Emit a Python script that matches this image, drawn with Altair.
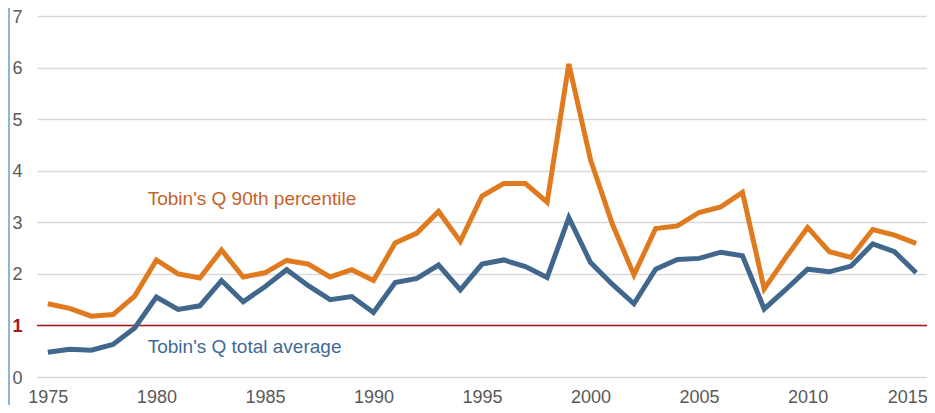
import altair as alt
import pandas as pd

years = list(range(1975, 2016))
q90 = [1.42, 1.33, 1.18, 1.21, 1.57, 2.27, 2.00, 1.92, 2.46, 1.94,
       2.02, 2.26, 2.19, 1.94, 2.08, 1.87, 2.60, 2.79, 3.21, 2.63,
       3.51, 3.75, 3.75, 3.39, 6.07, 4.21, 2.97, 1.98, 2.88, 2.93,
       3.19, 3.30, 3.58, 1.71, 2.32, 2.90, 2.43, 2.32, 2.86, 2.75, 2.59]
qavg = [0.48, 0.54, 0.52, 0.63, 0.95, 1.55, 1.31, 1.38, 1.87, 1.46,
        1.75, 2.08, 1.77, 1.50, 1.56, 1.25, 1.83, 1.91, 2.17, 1.69,
        2.19, 2.27, 2.14, 1.93, 3.09, 2.22, 1.80, 1.42, 2.09, 2.28,
        2.30, 2.42, 2.35, 1.32, 1.70, 2.09, 2.04, 2.15, 2.58, 2.43, 2.02]
series_names = ["Tobin's Q 90th percentile", "Tobin's Q total average"]
series_colors = ["#E07A1F", "#41678D"]
label_colors = ["#C4622A", "#3F6A96"]
label_pos_x = [1979.6, 1979.6]
label_pos_y = [3.33, 0.47]
x_ticks = [1975, 1980, 1985, 1990, 1995, 2000, 2005, 2010, 2015]

df = pd.DataFrame({
    "year": years * 2,
    "value": q90 + qavg,
    "series": [series_names[0]] * len(years) + [series_names[1]] * len(years),
})
labels = pd.DataFrame({"year": label_pos_x, "value": label_pos_y,
                       "text": series_names, "series": series_names})

FONT = "Liberation Sans"

xscale = alt.Scale(domain=[1974.5, 2015.5], nice=False, zero=False)
yscale = alt.Scale(domain=[0, 7], nice=False)

base_x = alt.X("year:Q", scale=xscale,
               axis=alt.Axis(values=x_ticks, format="d", grid=False, ticks=False,
                             domain=False, labelFontSize=18, labelColor="#595959",
                             labelFont=FONT, labelPadding=11, title=None,
                             labelFlush=False, labelOverlap=False,
                             labelOffset={"expr": "datum.value == 2015 ? -9 : 0"}))
base_y = alt.Y("value:Q", scale=yscale,
               axis=alt.Axis(values=list(range(0, 8)), format="d", grid=True, gridColor="#D9D9D9",
                             gridWidth=1.5, ticks=False, domain=False,
                             labelFontSize=18, labelFont=FONT, labelOffset=1,
                             labelColor={"expr": "datum.value == 1 ? '#A5171F' : '#595959'"},
                             labelFontWeight={"expr": "datum.value == 1 ? 'bold' : 'normal'"},
                             labelPadding=15, title=None))

lines = alt.Chart(df).mark_line(strokeWidth=5, strokeJoin="miter").encode(
    x=base_x, y=base_y,
    color=alt.Color("series:N", scale=alt.Scale(domain=series_names, range=series_colors),
                    legend=None),
)

ref = alt.Chart(pd.DataFrame({"v": [1]})).mark_rule(color="#A5171F", strokeWidth=1.5).encode(
    y=alt.Y("v:Q", scale=yscale)
)

text = alt.Chart(labels).mark_text(align="left", baseline="alphabetic", fontSize=19,
                                   font=FONT).encode(
    x=alt.X("year:Q", scale=xscale),
    y=alt.Y("value:Q", scale=yscale),
    text="text:N",
    color=alt.Color("series:N", scale=alt.Scale(domain=series_names, range=label_colors),
                    legend=None),
)

border = alt.Chart(pd.DataFrame({"v": [0]})).mark_rule(color="#8BB8DA", strokeWidth=2, clip=False).encode(
    x=alt.value(-28), y=alt.value(-16), y2=alt.value(400)
)

chart = alt.layer(ref, lines, text, border).resolve_scale(color="independent").properties(
    width=890, height=361,
    padding={"left": 29, "top": 8, "right": 0, "bottom": 28},
    autosize=alt.AutoSizeParams(type="none"),
).configure_view(stroke=None)

chart.save("out.html", embed_options={"renderer": "svg", "actions": False})
